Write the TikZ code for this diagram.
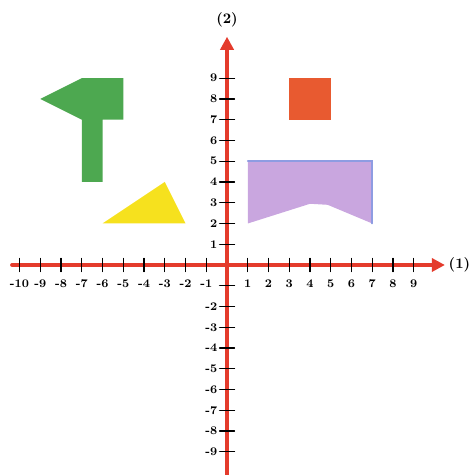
\documentclass[tikz,border=0pt]{standalone}
\usetikzlibrary{arrows.meta}
\definecolor{axisred}{HTML}{E43B2C}
\definecolor{leafgreen}{HTML}{4DA850}
\definecolor{brick}{HTML}{E85A30}
\definecolor{lemon}{HTML}{F6E11E}
\definecolor{lilac}{HTML}{C9A6DF}
\definecolor{lilacedge}{HTML}{8E9CE2}
\newcommand{\tk}{0.32}

\begin{document}
\begin{tikzpicture}[x=0.5cm, y=0.5cm, >={Triangle[length=9pt,width=9pt]}, line cap=round]
\useasboundingbox (-10.94,-10.12) rectangle (11.71,12.77);

% ================= the four figures =================
% green hammer
\fill[leafgreen] (-7,9) -- (-5,9) -- (-5,7) -- (-6,7) -- (-6,4) -- (-7,4) -- (-7,7) -- (-9,8) -- cycle;
% yellow triangle
\fill[lemon] (-6,2) -- (-2,2) -- (-3,4) -- cycle;
% red square
\fill[brick] (3,7) rectangle (5,9);
% lilac banner, notched at the bottom
\fill[lilac] (1,5) -- (7,5) -- (7,2) -- (4.85,2.9) -- (4,2.95) -- (1,2) -- cycle;
\draw[lilacedge, line width=1.3pt] (1,5) -- (7,5) -- (7,2);

% ================= axes =================
\coordinate (xs) at (-10.36,0);
\coordinate (xe) at (10.5,0);
\coordinate (ys) at (0,-10.2);
\coordinate (ye) at (0,11);
\draw[->, axisred, line width=2.6pt] (xs) -- (xe);
\draw[->, axisred, line width=2.6pt] (ys) -- (ye);

% ticks and numbers
\foreach \i in {-10,...,-1,1,2,...,9}{
  \draw[black, line width=.8pt] (\i,-\tk) -- (\i,\tk);
  \node[font=\bfseries\footnotesize, inner sep=0pt] (x\i) at (\i,-0.9) {\i};
}
\foreach \i in {-9,...,-1,1,2,...,9}
  \draw[black, line width=.8pt] (-0.36,\i) -- (0.36,\i);
\foreach \i in {-9,...,-2,1,2,...,9}
  \node[font=\bfseries\footnotesize, inner sep=0pt, anchor=east] (y\i) at (-0.46,\i) {\i};

% axis names
\node[font=\bfseries\normalsize] (xname) at (11.2,0) {(1)};
\node[font=\bfseries\normalsize] (yname) at (0,11.8) {(2)};

\end{tikzpicture}
\end{document}
